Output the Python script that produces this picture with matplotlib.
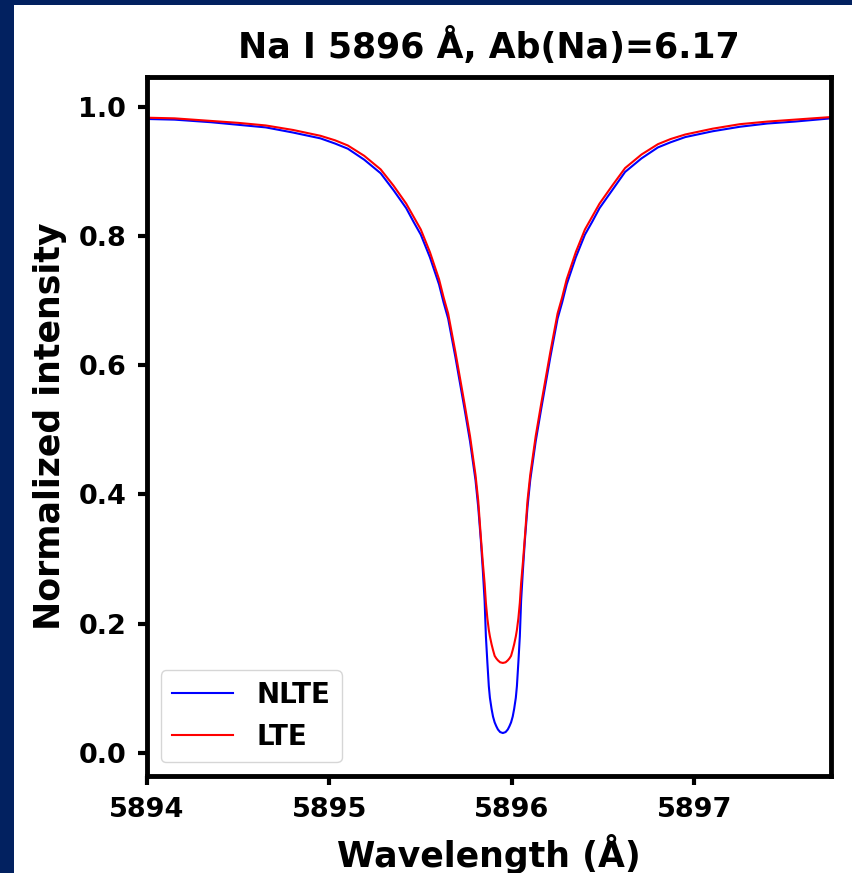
import matplotlib
matplotlib.use("Agg")
import matplotlib.pyplot as plt
from matplotlib.patches import Rectangle

# Wavelength grid (Angstrom)
wavelength = [5894.000, 5894.151, 5894.351, 5894.501, 5894.651, 5894.801, 5894.951,
              5895.031, 5895.101, 5895.191, 5895.281, 5895.351, 5895.421, 5895.461,
              5895.501, 5895.551, 5895.601, 5895.626, 5895.651, 5895.671, 5895.691,
              5895.716, 5895.741, 5895.756, 5895.771, 5895.786, 5895.801, 5895.816,
              5895.830, 5895.841, 5895.851, 5895.858, 5895.866, 5895.874, 5895.880,
              5895.889, 5895.897, 5895.906, 5895.915, 5895.924, 5895.936,
              5895.951,
              5895.966, 5895.978, 5895.987, 5895.996, 5896.005, 5896.013, 5896.022,
              5896.028, 5896.036, 5896.044, 5896.051, 5896.061, 5896.072, 5896.086,
              5896.101, 5896.116, 5896.131, 5896.146, 5896.161, 5896.186, 5896.211,
              5896.231, 5896.251, 5896.276, 5896.301, 5896.351, 5896.401, 5896.441,
              5896.481, 5896.551, 5896.621, 5896.711, 5896.801, 5896.871, 5896.951,
              5897.101, 5897.251, 5897.401, 5897.551, 5897.750]

nlte = [0.981, 0.980, 0.976, 0.972, 0.968, 0.960, 0.951,
        0.943, 0.935, 0.918, 0.897, 0.871, 0.843, 0.822,
        0.802, 0.767, 0.725, 0.697, 0.672, 0.642, 0.612,
        0.572, 0.532, 0.507, 0.482, 0.452, 0.422, 0.380,
        0.330, 0.283, 0.235, 0.180, 0.140, 0.103, 0.085,
        0.068, 0.056, 0.047, 0.041, 0.036, 0.032,
        0.0305,
        0.032, 0.036, 0.041, 0.047, 0.056, 0.068, 0.085,
        0.103, 0.140, 0.180, 0.235, 0.283, 0.330, 0.380,
        0.422, 0.452, 0.482, 0.507, 0.532, 0.572, 0.612,
        0.642, 0.672, 0.697, 0.725, 0.767, 0.802, 0.822,
        0.843, 0.871, 0.899, 0.920, 0.937, 0.945, 0.953,
        0.962, 0.969, 0.974, 0.977, 0.982]

lte = [0.983, 0.982, 0.978, 0.975, 0.971, 0.964, 0.955,
       0.948, 0.940, 0.924, 0.903, 0.878, 0.850, 0.830,
       0.810, 0.775, 0.733, 0.705, 0.680, 0.650, 0.620,
       0.580, 0.540, 0.515, 0.490, 0.460, 0.430, 0.390,
       0.335, 0.295, 0.262, 0.232, 0.208, 0.190, 0.180,
       0.168, 0.159, 0.150, 0.146, 0.143, 0.140,
       0.139,
       0.140, 0.143, 0.146, 0.150, 0.159, 0.168, 0.180,
       0.190, 0.208, 0.232, 0.262, 0.295, 0.335, 0.390,
       0.430, 0.460, 0.490, 0.515, 0.540, 0.580, 0.620,
       0.650, 0.680, 0.705, 0.733, 0.775, 0.810, 0.830,
       0.850, 0.878, 0.905, 0.926, 0.942, 0.950, 0.957,
       0.966, 0.973, 0.977, 0.980, 0.984]

series_labels = ["NLTE", "LTE"]
series_colors = ["blue", "red"]
title = "Na I 5896 Å, Ab(Na)=6.17"
xlabel = "Wavelength (Å)"
ylabel = "Normalized intensity"
xticks = [5894, 5895, 5896, 5897]
yticks = [0.0, 0.2, 0.4, 0.6, 0.8, 1.0]

W, H = 853, 873
fig = plt.figure(figsize=(W / 100, H / 100), dpi=100, facecolor="#022160")
fig.patches.append(Rectangle((14 / W, 0), 1 - 14 / W, 1 - 5 / H,
                             transform=fig.transFigure, facecolor="white",
                             edgecolor="none", zorder=-10))

ax = fig.add_axes([147 / W, 1 - 776 / H, (831 - 147) / W, (776 - 77) / H])
ax.plot(wavelength, nlte, color=series_colors[0], lw=1.5, label=series_labels[0])
ax.plot(wavelength, lte, color=series_colors[1], lw=1.5, label=series_labels[1])

ax.set_xlim(5894, 5897.75)
ax.set_ylim(-0.036, 1.046)
ax.set_xticks(xticks)
ax.set_yticks(yticks)
ax.set_xticklabels([str(t) for t in xticks])
ax.set_yticklabels([f"{t:.1f}" for t in yticks])
for lab in ax.get_xticklabels() + ax.get_yticklabels():
    lab.set_fontweight("bold")
    lab.set_fontsize(19.5)
ax.tick_params(width=3, length=6.5, pad=8.5)
for s in ax.spines.values():
    s.set_linewidth(3.5)

ax.set_title(title, fontsize=25, fontweight="bold", pad=14)
ax.set_xlabel(xlabel, fontsize=25, fontweight="bold", labelpad=8)
ax.set_ylabel(ylabel, fontsize=25, fontweight="bold", labelpad=8)

leg = ax.legend(loc="lower left", prop={"weight": "bold", "size": 20},
                handlelength=2.2, handletextpad=0.85)

fig.savefig("out.png", dpi=100, facecolor=fig.get_facecolor())
